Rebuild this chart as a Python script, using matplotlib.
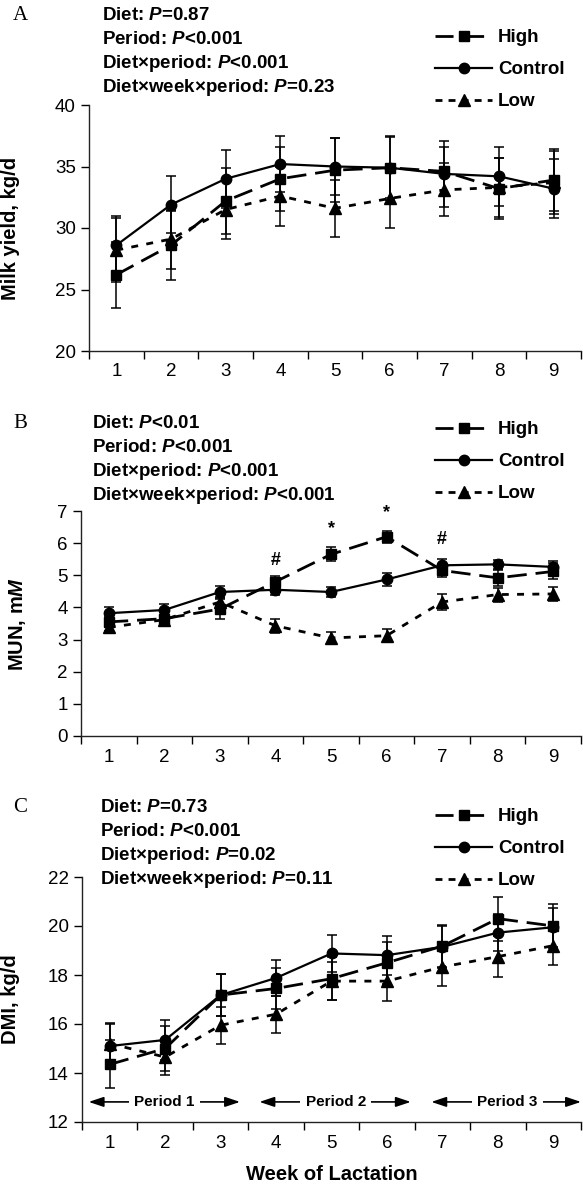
import matplotlib.pyplot as plt
from matplotlib.lines import Line2D

plt.rcParams['font.family'] = ['Liberation Sans', 'DejaVu Sans']
plt.rcParams['mathtext.fontset'] = 'custom'
plt.rcParams['mathtext.it'] = 'Liberation Sans:italic:bold'
plt.rcParams['mathtext.rm'] = 'Liberation Sans:bold'
plt.rcParams['mathtext.bf'] = 'Liberation Sans:bold'

weeks = [1, 2, 3, 4, 5, 6, 7, 8, 9]
diets = ['High', 'Control', 'Low']

# A: milk yield, kg/d (mean and SEM)
milk_high = [26.2, 28.6, 32.2, 34.0, 34.7, 34.9, 34.6, 33.2, 33.9]
milk_control = [28.6, 31.9, 34.0, 35.2, 35.0, 34.9, 34.4, 34.2, 33.2]
milk_low = [28.2, 29.1, 31.5, 32.6, 31.6, 32.4, 33.1, 33.3, 33.7]
milk_high_sem = [2.7, 2.8, 2.7, 2.6, 2.6, 2.6, 2.0, 2.5, 2.5]
milk_control_sem = [2.4, 2.3, 2.35, 2.3, 2.3, 2.5, 2.7, 2.4, 2.4]
milk_low_sem = [2.6, 2.4, 2.4, 2.4, 2.3, 2.4, 2.15, 2.4, 2.6]
milk_stats = ['Diet: $P$=0.87', 'Period: $P$<0.001',
              'Diet\u00d7period: $P$<0.001', 'Diet\u00d7week\u00d7period: $P$=0.23']

# B: MUN, mM
mun_high = [3.55, 3.65, 3.95, 4.8, 5.65, 6.2, 5.15, 4.92, 5.12]
mun_control = [3.82, 3.92, 4.48, 4.55, 4.48, 4.87, 5.31, 5.34, 5.26]
mun_low = [3.38, 3.62, 4.17, 3.43, 3.05, 3.12, 4.17, 4.4, 4.42]
mun_high_sem = [0.15, 0.2, 0.3, 0.18, 0.22, 0.18, 0.2, 0.25, 0.25]
mun_control_sem = [0.2, 0.2, 0.2, 0.17, 0.17, 0.2, 0.2, 0.15, 0.2]
mun_low_sem = [0.12, 0.15, 0.15, 0.22, 0.18, 0.2, 0.25, 0.22, 0.22]
mun_stats = ['Diet: $P$<0.01', 'Period: $P$<0.001',
             'Diet\u00d7period: $P$<0.001', 'Diet\u00d7week\u00d7period: $P$<0.001']
mun_marks = ['#', '*', '*', '#']
mun_mark_weeks = [4, 5, 6, 7]
mun_mark_y = [5.45, 6.45, 6.95, 6.1]

# C: DMI, kg/d
dmi_high = [14.35, 15.0, 17.18, 17.45, 17.85, 18.5, 19.18, 20.3, 20.0]
dmi_control = [15.1, 15.35, 17.18, 17.88, 18.88, 18.81, 19.15, 19.73, 19.95]
dmi_low = [15.2, 14.65, 15.95, 16.4, 17.75, 17.75, 18.33, 18.75, 19.2]
dmi_high_sem = [0.98, 0.9, 0.85, 0.85, 0.88, 0.85, 0.87, 0.9, 0.9]
dmi_control_sem = [0.95, 0.8, 0.87, 0.75, 0.75, 0.8, 0.87, 0.75, 0.8]
dmi_low_sem = [0.8, 0.75, 0.75, 0.75, 0.78, 0.8, 0.78, 0.85, 0.8]
dmi_stats = ['Diet: $P$=0.73', 'Period: $P$<0.001',
             'Diet\u00d7period: $P$=0.02', 'Diet\u00d7week\u00d7period: $P$=0.11']
periods = ['Period 1', 'Period 2', 'Period 3']
period_start = [0.62, 3.7, 6.8]
period_end = [3.35, 6.43, 9.5]
period_mid = [1.98, 5.08, 8.17]

W, H = 583, 1185
fig = plt.figure(figsize=(W / 100, H / 100), dpi=100)

styles = {
    'High': dict(marker='s', ms=7, ls=(0, (7, 3.2)), lw=2.0),
    'Control': dict(marker='o', ms=7.5, ls='-', lw=1.6),
    'Low': dict(marker='^', ms=8, ls=(0, (2.5, 3)), lw=2.0),
}
# legend keys: long dash either side of the marker for High
legend_ls = {'High': (0, (6.5, 4.5)), 'Control': '-', 'Low': (0, (2.5, 2.2))}

# pixel layout: axes box (left, right, top, bottom), text positions
layout = [
    dict(box=(89, 581, 105, 351), stats_x=102, stats_y=15, legend_y=36, ylab_x=20),
    dict(box=(81, 581, 511, 736), stats_x=92, stats_y=423, legend_y=428, ylab_x=28),
    dict(box=(82, 581, 877, 1122), stats_x=100, stats_y=807, legend_y=815, ylab_x=20),
]
panels = [
    dict(letter='A', means=(milk_high, milk_control, milk_low),
         sems=(milk_high_sem, milk_control_sem, milk_low_sem),
         ylim=(20, 40), yticks=[20, 25, 30, 35, 40], ylabel='Milk yield, kg/d', stats=milk_stats),
    dict(letter='B', means=(mun_high, mun_control, mun_low),
         sems=(mun_high_sem, mun_control_sem, mun_low_sem),
         ylim=(0, 7), yticks=[0, 1, 2, 3, 4, 5, 6, 7], ylabel='MUN, m$M$', stats=mun_stats),
    dict(letter='C', means=(dmi_high, dmi_control, dmi_low),
         sems=(dmi_high_sem, dmi_control_sem, dmi_low_sem),
         ylim=(12, 22), yticks=[12, 14, 16, 18, 20, 22], ylabel='DMI, kg/d', stats=dmi_stats),
]

axes = []
for p, lay in zip(panels, layout):
    left, right, top, bottom = lay['box']
    ax = fig.add_axes([left / W, 1 - bottom / H, (right - left) / W, (bottom - top) / H])
    axes.append(ax)

    for name, y, e in zip(diets, p['means'], p['sems']):
        ax.errorbar(weeks, y, yerr=e, fmt='none', ecolor='black', elinewidth=1.1,
                    capsize=3.5, capthick=1.1, clip_on=False, zorder=2)
        ax.plot(weeks, y, color='black', clip_on=False, zorder=3, **styles[name])

    ax.set_xlim(0.5, 9.5)
    ax.set_ylim(*p['ylim'])
    ax.set_yticks(p['yticks'])
    ax.set_xticks([w - 0.5 for w in weeks] + [9.5])
    ax.set_xticklabels([])
    ax.set_xticks(weeks, minor=True)
    ax.set_xticklabels([str(w) for w in weeks], minor=True)
    ax.tick_params(axis='x', which='major', length=6, width=1, direction='out')
    ax.tick_params(axis='x', which='minor', length=0, pad=9, labelsize=13.5)
    ax.tick_params(axis='y', length=5.5, width=1, direction='out', pad=4, labelsize=13.5)
    for s in ['top', 'right']:
        ax.spines[s].set_visible(False)
    for s in ['left', 'bottom']:
        ax.spines[s].set_linewidth(1)
        ax.spines[s].set_color('#222222')

    ax.set_ylabel(p['ylabel'], fontsize=14.5, fontweight='bold')
    ax.yaxis.set_label_coords((lay['ylab_x'] - left) / (right - left), 0.5)

    fig.text(13 / W, 1 - lay['stats_y'] / H, p['letter'], family='Liberation Serif',
             fontsize=15, va='center', ha='left')
    for i, line in enumerate(p['stats']):
        fig.text(lay['stats_x'] / W, 1 - (lay['stats_y'] + 24 * i) / H, line,
                 fontsize=13.5, fontweight='bold', va='center', ha='left')

    handles = []
    for n in diets:
        st = dict(styles[n])
        st['ls'] = legend_ls[n]
        handles.append(Line2D([], [], color='black', **st))
    ax.legend(handles, diets, loc='upper left', bbox_to_anchor=(435 / W, 1 - (lay['legend_y'] - 7) / H),
              bbox_transform=fig.transFigure, frameon=False, borderpad=0, borderaxespad=0,
              handlelength=3.05, handletextpad=0.3, labelspacing=0.8,
              prop=dict(weight='bold', size=13.5))

# significance marks on MUN
for m, w, yv in zip(mun_marks, mun_mark_weeks, mun_mark_y):
    axes[1].text(w, yv, m, ha='center', va='center', fontsize=13, fontweight='bold')

# period arrows on DMI
axc = axes[2]
for name, a, b, mid in zip(periods, period_start, period_end, period_mid):
    axc.annotate('', xy=(a, 12.82), xytext=(b, 12.82),
                 arrowprops=dict(arrowstyle='<|-|>,head_length=0.9,head_width=0.3',
                                 color='black', lw=1.2, shrinkA=0, shrinkB=0, mutation_scale=10),
                 annotation_clip=False)
    axc.text(mid, 12.82, name, ha='center', va='center', fontsize=11, fontweight='bold',
             bbox=dict(boxstyle='square,pad=0.35', fc='white', ec='none'), zorder=5)

axc.set_xlabel('Week of Lactation', fontsize=14.5, fontweight='bold', labelpad=10)

fig.savefig('out.png', dpi=100)
